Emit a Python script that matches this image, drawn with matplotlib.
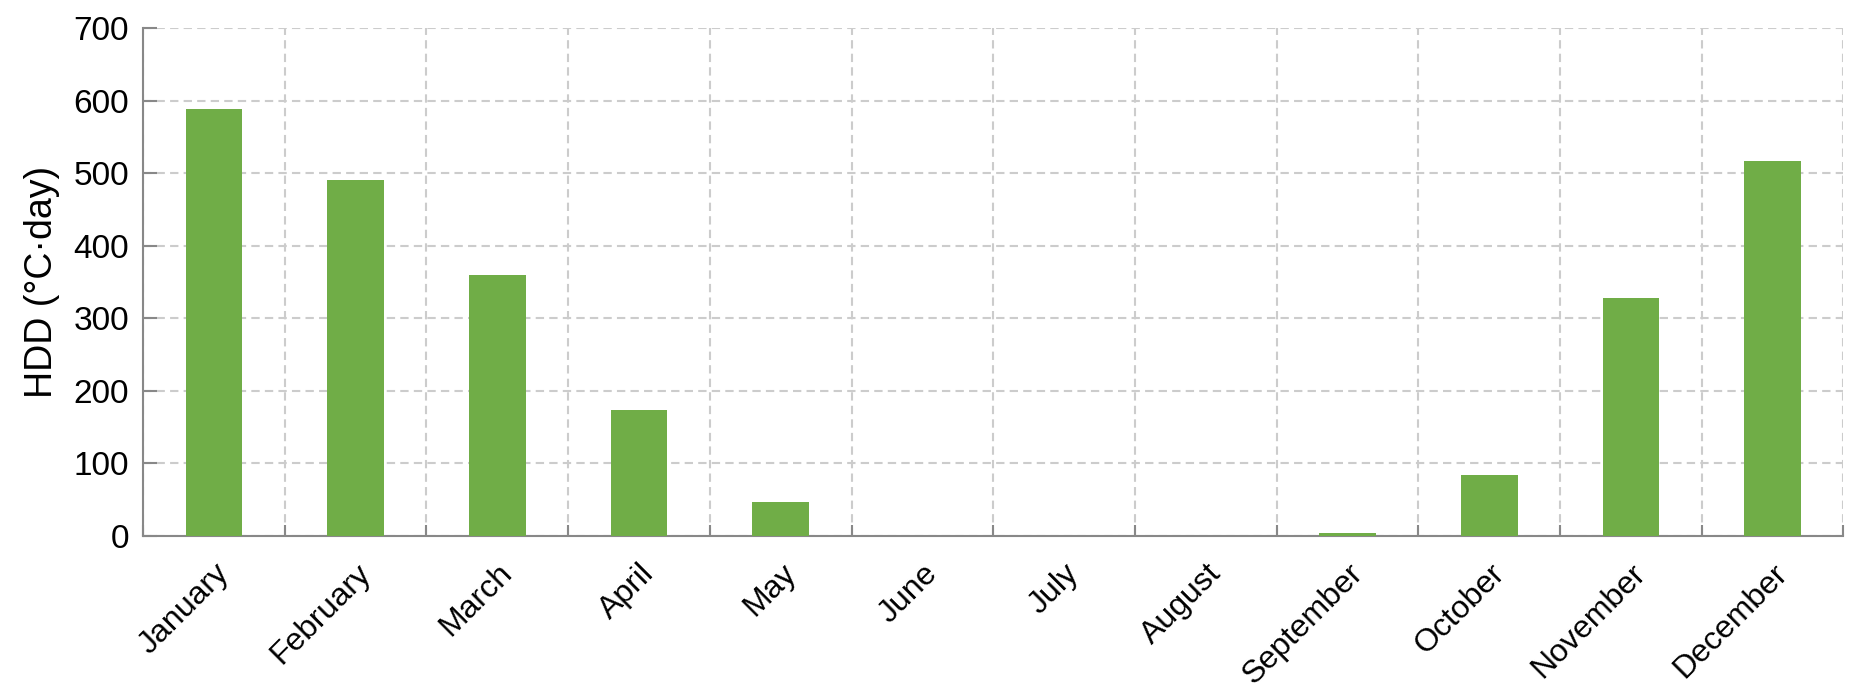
import numpy as np
import matplotlib.pyplot as plt
from matplotlib.ticker import FixedLocator

plt.rcParams['font.family'] = ['Liberation Sans', 'DejaVu Sans']

# ---------------------------------------------------------------------------- #
#                                     DATA                                     #
# ---------------------------------------------------------------------------- #
MONTHS = ["January", "February", "March", "April", "May", "June",
          "July", "August", "September", "October", "November", "December"]
HDD = [588, 491, 359, 173, 47, 0, 0, 0, 4, 84, 328, 517]
Y_TICKS = [0, 100, 200, 300, 400, 500, 600, 700]

BAR_COLOR = "#70AD47"
AXIS_COLOR = "#888888"
GRID_COLOR = "#cccccc"
DASH = (0, (4, 2.5))

fig = plt.figure(figsize=(18.6, 6.98), dpi=100)
ax = fig.add_axes([0.0769, 0.232, 0.9142, 0.728])

x = np.arange(len(MONTHS))
ax.bar(x, HDD, width=0.4, color=BAR_COLOR, zorder=3)

ax.set_xlim(-0.5, len(MONTHS) - 0.5)
ax.set_ylim(0, 700)
ax.set_yticks(Y_TICKS)

# month labels at bar centres, ticks + grid at category boundaries
ax.set_xticks(x)
ax.set_xticklabels(MONTHS, rotation=45, ha="right", rotation_mode="anchor", fontsize=23)
ax.xaxis.set_minor_locator(FixedLocator(np.arange(-0.5, len(MONTHS), 1.0)))
ax.tick_params(axis="x", which="major", length=0, pad=16)
ax.tick_params(axis="x", which="minor", direction="in", length=8, width=1.5, color=AXIS_COLOR)
ax.tick_params(axis="y", direction="in", length=10, width=1.5, color=AXIS_COLOR, labelsize=24, pad=10)

ax.grid(axis="y", which="major", linestyle=DASH, color=GRID_COLOR, linewidth=1.5, zorder=0)
ax.grid(axis="x", which="minor", linestyle=DASH, color=GRID_COLOR, linewidth=1.5, zorder=0)
ax.set_axisbelow(True)

for side in ["top", "right"]:
    ax.spines[side].set_visible(False)
for side in ["left", "bottom"]:
    ax.spines[side].set_color(AXIS_COLOR)
    ax.spines[side].set_linewidth(1.5)

ax.set_ylabel("HDD (°C·day)", fontsize=27, labelpad=10)

fig.savefig("out.png", dpi=100)
